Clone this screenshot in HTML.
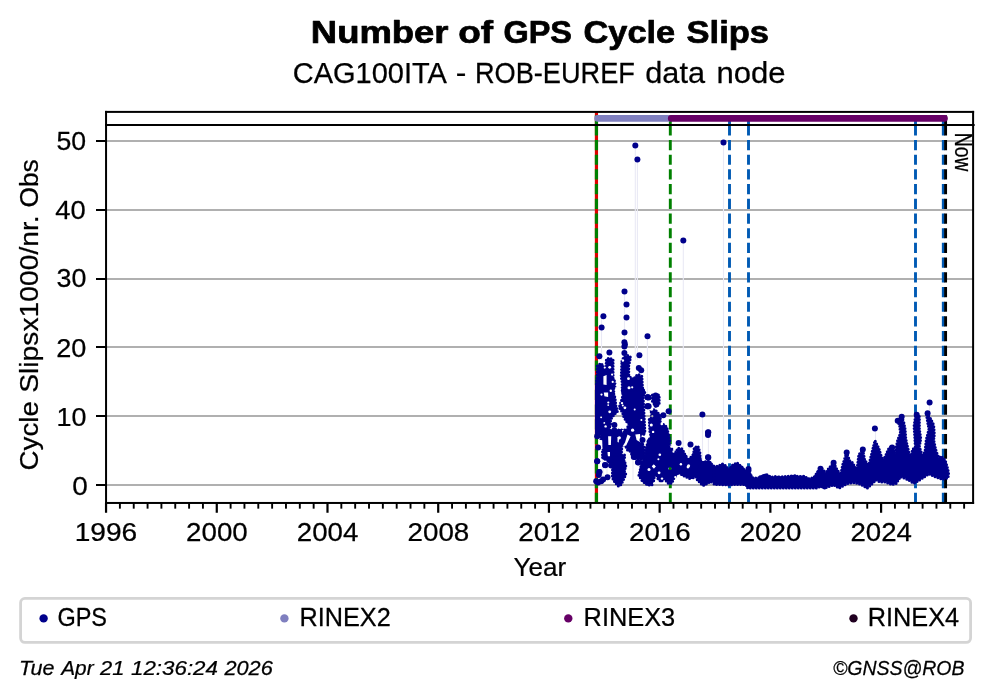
<!DOCTYPE html><html><head><meta charset="utf-8"><title>GPS Cycle Slips</title><style>html,body{margin:0;padding:0;background:#fff;overflow:hidden}svg{display:block;will-change:transform}text{stroke:#000;stroke-width:0.25px;stroke-linejoin:round}text[font-weight="bold"]{stroke-width:0.7px}</style></head><body>
<svg width="992" height="699" viewBox="0 0 992 699">
<rect x="0" y="0" width="992" height="699" fill="#fff"/>
<rect x="106.05" y="140.00" width="867.0500000000001" height="2" fill="#b0b0b0"/>
<rect x="106.05" y="209.00" width="867.0500000000001" height="2" fill="#b0b0b0"/>
<rect x="106.05" y="278.00" width="867.0500000000001" height="2" fill="#b0b0b0"/>
<rect x="106.05" y="346.00" width="867.0500000000001" height="2" fill="#b0b0b0"/>
<rect x="106.05" y="415.00" width="867.0500000000001" height="2" fill="#b0b0b0"/>
<rect x="106.05" y="484.00" width="867.0500000000001" height="2" fill="#b0b0b0"/>
<line x1="596.45" y1="502.96" x2="596.45" y2="125" stroke="#e00000" stroke-width="3.2" />
<line x1="596.45" y1="125" x2="596.45" y2="111.9" stroke="#e00000" stroke-width="3.2"/>
<line x1="596.45" y1="502.96" x2="596.45" y2="125" stroke="#008000" stroke-width="3.2" stroke-dasharray="10.2 4.5"/>
<line x1="596.45" y1="125" x2="596.45" y2="115.3" stroke="#008000" stroke-width="3.2"/>
<line x1="670.3" y1="502.96" x2="670.3" y2="125" stroke="#008000" stroke-width="2.9" stroke-dasharray="10.2 4.5"/>
<line x1="670.3" y1="125" x2="670.3" y2="115.3" stroke="#008000" stroke-width="2.9"/>
<line x1="729.5" y1="502.96" x2="729.5" y2="125" stroke="#005ab4" stroke-width="2.9" stroke-dasharray="10.2 4.5"/>
<line x1="729.5" y1="125" x2="729.5" y2="115.3" stroke="#005ab4" stroke-width="2.9"/>
<line x1="748.5" y1="502.96" x2="748.5" y2="125" stroke="#005ab4" stroke-width="2.9" stroke-dasharray="10.2 4.5"/>
<line x1="748.5" y1="125" x2="748.5" y2="115.3" stroke="#005ab4" stroke-width="2.9"/>
<line x1="915.5" y1="502.96" x2="915.5" y2="125" stroke="#005ab4" stroke-width="2.9" stroke-dasharray="10.2 4.5"/>
<line x1="915.5" y1="125" x2="915.5" y2="115.3" stroke="#005ab4" stroke-width="2.9"/>
<line x1="943.3" y1="502.96" x2="943.3" y2="125" stroke="#005ab4" stroke-width="2.9" stroke-dasharray="10.2 4.5"/>
<line x1="943.3" y1="125" x2="943.3" y2="115.3" stroke="#005ab4" stroke-width="2.9"/>
<line x1="945.6" y1="502.96" x2="945.6" y2="125" stroke="#000000" stroke-width="2.9" stroke-dasharray="10.2 4.5"/>
<line x1="945.6" y1="125" x2="945.6" y2="115.3" stroke="#000000" stroke-width="2.9"/>
<g stroke="#e9e9f5" stroke-width="1.1">
<line x1="635.3" y1="145.5" x2="635.3" y2="360.0"/>
<line x1="637.4" y1="159.4" x2="637.4" y2="360.0"/>
<line x1="683.3" y1="240.5" x2="683.3" y2="470.0"/>
<line x1="723.5" y1="142.4" x2="723.5" y2="470.0"/>
<line x1="647.4" y1="336.4" x2="647.4" y2="395.0"/>
<line x1="624.5" y1="291.4" x2="624.5" y2="355.0"/>
<line x1="601.5" y1="316.0" x2="601.5" y2="360.0"/>
<line x1="708.4" y1="432.0" x2="708.4" y2="470.0"/>
<line x1="875.5" y1="428.0" x2="875.5" y2="450.0"/>
<line x1="929.5" y1="402.0" x2="929.5" y2="420.0"/>
<line x1="702.5" y1="414.4" x2="702.5" y2="460.0"/>
<line x1="689.0" y1="440.0" x2="689.0" y2="475.0"/>
<line x1="683.0" y1="420.0" x2="683.0" y2="470.0"/>
<line x1="603.0" y1="420.0" x2="603.0" y2="480.0"/>
<line x1="607.0" y1="430.0" x2="607.0" y2="480.0"/>
<line x1="623.0" y1="440.0" x2="623.0" y2="470.0"/>
<line x1="633.0" y1="450.0" x2="633.0" y2="480.0"/>
</g>
<mask id="hm" maskUnits="userSpaceOnUse" x="0" y="0" width="992" height="699"><rect x="0" y="0" width="992" height="699" fill="#fff"/>
<path d="M603.4,376.2 L606.6,375.0 L606.6,385.0 L603.4,384.4Z" fill="#000"/>
<path d="M603.8,392.5 L608.1,392.5 L608.1,396.9 L604.4,396.2Z" fill="#000"/>
<path d="M617.5,436.9 L619.1,436.9 L618.8,442.5 L617.5,441.9Z" fill="#000"/>
<path d="M627.5,434.4 L630.6,436.2 L628.8,440.0 L626.2,445.6 L622.5,446.4 L625.0,442.5Z" fill="#000"/>
<path d="M598.1,439.4 L602.2,440.3 L602.5,448.8 L600.3,450.6 L598.4,446.2Z" fill="#000"/>
<path d="M608.1,436.2 L611.2,436.2 L610.9,445.0 L608.4,445.0Z" fill="#000"/>
<path d="M607.5,451.9 L610.0,451.9 L610.0,456.2 L607.8,456.2Z" fill="#000"/>
<path d="M635.3,434.4 L640.0,433.9 L640.8,442.5 L636.6,440.0Z" fill="#000"/>
<path d="M617.8,430.0 L623.8,430.0 L621.6,433.4 L619.1,433.4Z" fill="#000"/>
<path d="M653.6,464.4 L655.5,466.2 L653.6,468.1 L651.8,466.2Z" fill="#000"/>
<path d="M653.9,464.4 L655.8,466.6 L653.9,468.8 L652.1,466.6Z" fill="#000"/>
<circle cx="628.5" cy="378.7" r="1.4" fill="#000"/>
<circle cx="605.6" cy="426.4" r="1.2" fill="#000"/>
<circle cx="604.3" cy="422.9" r="0.9" fill="#000"/>
<circle cx="638.5" cy="368.7" r="1.0" fill="#000"/>
<circle cx="637.6" cy="462.5" r="1.0" fill="#000"/>
<circle cx="619.3" cy="437.8" r="1.6" fill="#000"/>
<circle cx="651.5" cy="409.2" r="1.6" fill="#000"/>
<circle cx="603.2" cy="466.5" r="1.1" fill="#000"/>
<circle cx="612.1" cy="374.6" r="1.1" fill="#000"/>
<circle cx="673.3" cy="382.4" r="1.3" fill="#000"/>
<circle cx="657.1" cy="406.2" r="1.3" fill="#000"/>
<circle cx="604.7" cy="367.4" r="1.0" fill="#000"/>
<circle cx="660.9" cy="413.0" r="1.1" fill="#000"/>
<circle cx="652.3" cy="416.2" r="1.1" fill="#000"/>
<circle cx="671.3" cy="446.7" r="1.1" fill="#000"/>
<circle cx="651.3" cy="425.1" r="1.5" fill="#000"/>
<circle cx="665.4" cy="395.7" r="1.6" fill="#000"/>
<circle cx="609.7" cy="411.8" r="1.4" fill="#000"/>
<circle cx="612.8" cy="420.6" r="0.9" fill="#000"/>
<circle cx="659.8" cy="454.8" r="1.3" fill="#000"/>
<circle cx="678.7" cy="398.9" r="1.4" fill="#000"/>
<circle cx="653.1" cy="431.9" r="1.2" fill="#000"/>
<circle cx="675.4" cy="477.1" r="1.2" fill="#000"/>
<circle cx="659.4" cy="367.5" r="1.4" fill="#000"/>
<circle cx="657.9" cy="483.1" r="1.5" fill="#000"/>
<circle cx="624.9" cy="407.8" r="1.4" fill="#000"/>
<circle cx="601.1" cy="417.3" r="1.0" fill="#000"/>
<circle cx="609.7" cy="367.3" r="1.4" fill="#000"/>
<circle cx="610.8" cy="390.7" r="1.2" fill="#000"/>
<circle cx="678.3" cy="370.0" r="1.2" fill="#000"/>
<circle cx="649.0" cy="469.5" r="1.5" fill="#000"/>
<circle cx="677.6" cy="394.5" r="1.2" fill="#000"/>
<circle cx="631.6" cy="469.6" r="1.6" fill="#000"/>
<circle cx="612.7" cy="381.9" r="1.1" fill="#000"/>
<circle cx="620.2" cy="420.1" r="1.3" fill="#000"/>
<circle cx="622.9" cy="360.5" r="1.2" fill="#000"/>
<circle cx="632.6" cy="430.2" r="1.6" fill="#000"/>
<circle cx="661.8" cy="423.9" r="1.3" fill="#000"/>
<circle cx="660.5" cy="366.7" r="1.5" fill="#000"/>
<circle cx="670.0" cy="468.4" r="1.5" fill="#000"/>
<circle cx="634.7" cy="409.5" r="1.0" fill="#000"/>
<circle cx="656.7" cy="367.7" r="0.9" fill="#000"/>
<circle cx="618.0" cy="380.1" r="1.1" fill="#000"/>
<circle cx="603.8" cy="360.0" r="1.0" fill="#000"/>
<circle cx="608.2" cy="405.1" r="0.9" fill="#000"/>
<circle cx="678.6" cy="436.1" r="1.0" fill="#000"/>
<circle cx="622.0" cy="403.1" r="1.2" fill="#000"/>
<circle cx="610.2" cy="465.3" r="1.6" fill="#000"/>
<circle cx="641.4" cy="420.0" r="1.0" fill="#000"/>
<circle cx="608.3" cy="402.5" r="1.1" fill="#000"/>
<circle cx="674.4" cy="380.0" r="0.9" fill="#000"/>
<circle cx="685.5" cy="425.5" r="1.0" fill="#000"/>
<circle cx="648.4" cy="363.4" r="1.3" fill="#000"/>
<circle cx="688.0" cy="467.1" r="1.4" fill="#000"/>
<circle cx="622.8" cy="405.5" r="1.0" fill="#000"/>
<circle cx="669.2" cy="426.0" r="1.4" fill="#000"/>
<circle cx="629.0" cy="387.7" r="1.5" fill="#000"/>
<circle cx="688.6" cy="465.7" r="1.5" fill="#000"/>
<circle cx="673.5" cy="451.7" r="1.1" fill="#000"/>
<circle cx="646.1" cy="404.1" r="0.9" fill="#000"/>
<circle cx="601.5" cy="394.6" r="1.1" fill="#000"/>
<circle cx="662.0" cy="478.6" r="1.2" fill="#000"/>
<circle cx="684.3" cy="482.5" r="1.6" fill="#000"/>
<circle cx="632.2" cy="387.3" r="1.1" fill="#000"/>
<circle cx="616.9" cy="385.3" r="1.3" fill="#000"/>
<circle cx="680.9" cy="464.2" r="1.2" fill="#000"/>
<circle cx="658.4" cy="459.2" r="1.0" fill="#000"/>
<circle cx="659.1" cy="472.8" r="1.4" fill="#000"/>
<circle cx="667.3" cy="419.3" r="1.0" fill="#000"/>
<circle cx="670.8" cy="401.2" r="1.5" fill="#000"/>
</mask>
<clipPath id="bc"><rect x="595" y="130" width="360" height="370"/></clipPath>
<g clip-path="url(#bc)"><g fill="#00008b" stroke="#00008b" stroke-width="3.0" stroke-dasharray="0 3.0" stroke-linecap="round" stroke-linejoin="round" mask="url(#hm)">
<path d="M597.2,365.9 L598.1,365.0 L600.9,363.4 L603.8,366.2 L603.4,368.8 L606.2,371.9 L606.2,359.4 L609.4,358.1 L613.1,359.4 L613.1,378.1 L614.4,380.0 L614.4,382.5 L615.9,385.3 L613.8,387.5 L613.8,393.0 L594.7,393.0 L594.7,387.5 L595.9,385.0 L597.2,376.2Z"/>
<path d="M621.9,361.2 L623.8,356.9 L627.5,355.3 L630.6,357.2 L630.0,360.0 L628.8,365.6 L628.8,375.0 L630.6,377.5 L633.8,379.4 L635.0,376.9 L638.1,374.4 L641.9,376.2 L642.5,387.5 L644.4,393.0 L622.2,393.0 L622.2,382.5 L621.2,376.9Z"/>
<path d="M594.7,390.0 L610.6,390.0 L613.8,393.8 L615.0,397.5 L615.9,405.6 L617.5,411.2 L615.0,413.8 L611.9,417.5 L610.6,420.0 L610.6,425.0 L608.8,428.8 L610.6,433.0 L594.7,433.0Z"/>
<path d="M622.5,390.0 L643.8,390.0 L645.0,393.1 L643.1,396.2 L643.8,408.8 L644.4,421.2 L645.0,433.0 L630.0,433.0 L627.5,427.5 L628.8,423.8 L626.2,421.2 L623.8,416.9 L622.5,412.5 L619.1,407.5 L621.2,401.2 L623.1,395.0Z"/>
<path d="M600.6,430.0 L644.4,430.0 L643.8,434.4 L640.0,433.8 L641.2,441.2 L643.8,446.2 L645.0,456.2 L642.5,459.4 L637.5,459.4 L633.8,458.1 L630.0,451.2 L627.5,450.0 L625.0,445.0 L621.9,445.6 L621.2,456.9 L625.0,462.5 L625.6,466.9 L623.8,473.0 L613.4,473.0 L613.1,467.5 L608.8,460.0 L606.2,460.0 L602.5,457.5 L602.5,445.6 L600.6,439.4Z"/>
<path d="M594.7,430.0 L600.6,430.0 L600.6,433.8 L598.1,436.2 L594.7,437.5Z"/>
<path d="M648.8,440.0 L652.0,437.5 L652.0,473.0 L640.0,473.0 L641.2,467.5 L642.5,461.2 L645.0,456.2 L645.6,448.8Z"/>
<path d="M612.5,455.0 L625.0,455.0 L623.8,461.2 L625.9,466.2 L623.8,470.0 L625.9,474.4 L623.8,478.8 L621.2,484.4 L618.4,486.2 L615.0,482.5 L612.2,477.5 L612.5,470.0 L611.9,461.2Z"/>
<path d="M641.9,461.9 L652.0,455.0 L652.0,485.0 L647.5,485.0 L642.5,481.2 L638.8,475.6 L640.0,470.6Z"/>
<path d="M652.4,395.0 L659.2,395.0 L659.2,404.4 L656.1,406.9 L652.4,401.2Z"/>
<path d="M651.1,410.6 L654.9,409.4 L659.9,415.0 L660.5,420.0 L659.9,423.8 L663.6,424.4 L666.8,426.9 L668.0,432.5 L668.6,438.0 L651.8,438.0 L649.9,432.5 L649.2,418.8 L651.8,417.5Z"/>
<path d="M648.0,441.2 L651.8,435.0 L668.6,435.0 L669.9,441.2 L669.2,445.0 L671.8,448.8 L673.0,452.5 L676.1,451.9 L678.0,448.1 L681.8,448.8 L684.2,452.5 L685.5,456.2 L688.0,460.0 L691.8,458.1 L693.6,453.8 L694.2,447.5 L698.0,446.2 L699.9,452.5 L700.5,462.5 L705.5,461.9 L710.0,461.2 L710.0,478.0 L695.5,475.6 L693.0,478.0 L683.0,475.0 L678.0,472.5 L674.2,478.0 L658.0,478.0 L656.1,472.5 L653.0,478.0 L648.0,478.0Z"/>
<path d="M648.0,455.0 L685.5,455.0 L688.0,460.6 L693.0,455.0 L699.2,455.0 L701.1,462.5 L710.0,461.2 L710.0,481.9 L703.0,485.6 L697.4,480.0 L694.9,475.0 L690.5,478.8 L683.0,475.6 L678.6,471.9 L674.2,477.5 L671.8,483.1 L668.6,483.8 L664.2,478.8 L661.1,481.9 L658.0,478.8 L656.1,472.5 L654.2,477.5 L653.6,481.2 L648.0,485.6Z"/>
<path d="M699.0,469.0 L700.9,462.5 L704.6,462.5 L710.2,462.5 L713.9,466.3 L715.8,470.9 L721.4,464.4 L725.1,465.3 L728.8,470.0 L732.5,465.3 L737.2,464.4 L741.8,467.2 L745.5,471.8 L748.3,468.1 L750.0,469.0 L750.0,487.6 L747.4,485.8 L740.9,483.0 L730.7,483.9 L720.4,483.9 L712.1,482.1 L708.3,481.1 L704.6,484.9 L700.9,483.0 L699.0,480.2Z"/>
<path d="M714.0,466.2 L717.8,466.2 L722.8,463.8 L726.5,467.5 L729.0,470.0 L732.8,465.0 L735.2,463.8 L735.0,463.6 L737.7,463.2 L743.2,468.1 L745.9,473.6 L748.6,472.0 L753.1,478.1 L757.7,478.1 L766.3,474.5 L771.3,477.2 L775.8,476.3 L782.2,478.1 L786.7,479.0 L794.0,475.4 L798.5,477.2 L804.0,476.3 L808.5,479.0 L814.0,477.2 L817.6,471.8 L821.2,468.1 L825.0,471.8 L825.0,488.1 L821.2,486.3 L816.7,488.1 L747.7,488.1 L745.9,484.5 L735.0,484.5 L729.0,485.0 L714.0,484.4Z"/>
<path d="M760.0,476.8 L766.0,474.8 L772.1,478.8 L780.2,476.8 L792.3,475.8 L804.4,476.8 L812.4,480.8 L818.5,470.7 L820.5,468.7 L824.5,474.8 L828.5,468.7 L833.6,462.7 L836.6,468.7 L840.6,474.8 L842.7,464.7 L846.7,452.6 L849.7,460.6 L852.7,462.7 L856.8,470.7 L858.8,454.6 L862.8,449.6 L864.8,460.6 L868.9,464.7 L870.9,456.6 L874.9,440.5 L879.0,448.5 L880.0,452.1 L882.7,460.2 L885.4,456.2 L888.2,449.4 L890.9,446.7 L893.6,449.4 L895.0,454.8 L896.3,446.7 L897.7,439.9 L900.4,433.1 L899.7,426.3 L897.7,420.8 L901.7,416.7 L903.8,422.2 L905.1,429.0 L905.8,438.5 L907.2,445.3 L909.2,453.4 L910.6,457.5 L912.6,449.4 L915.3,446.7 L914.7,435.8 L914.0,426.3 L916.0,412.7 L919.4,416.7 L919.4,429.0 L920.8,438.5 L919.4,446.7 L922.1,454.8 L924.9,452.1 L926.2,439.9 L928.9,429.0 L927.6,422.2 L926.2,412.7 L930.3,418.1 L933.7,424.9 L934.4,434.4 L933.7,439.9 L935.7,449.4 L938.4,457.5 L941.2,456.2 L945.2,460.2 L948.0,469.8 L948.6,473.8 L948.0,477.9 L942.5,479.3 L934.4,476.6 L928.9,473.8 L920.8,479.3 L914.0,483.4 L907.2,479.3 L900.4,476.6 L896.3,483.4 L892.2,484.7 L885.4,482.0 L880.0,482.0 L876.3,479.9 L867.2,488.1 L860.8,484.5 L854.5,482.6 L847.2,483.6 L839.0,488.1 L833.6,484.9 L824.5,488.1 L820.0,485.4 L760.0,486.0Z"/>
</g></g>
<g fill="#00008b">
<circle cx="635.3" cy="145.5" r="3"/>
<circle cx="637.4" cy="159.4" r="3"/>
<circle cx="683.3" cy="240.5" r="3"/>
<circle cx="723.5" cy="142.4" r="3"/>
<circle cx="624.5" cy="291.4" r="3"/>
<circle cx="626.5" cy="304.5" r="3"/>
<circle cx="626.5" cy="317.5" r="3"/>
<circle cx="603.4" cy="316.3" r="3"/>
<circle cx="601.6" cy="327.4" r="3"/>
<circle cx="624.5" cy="332.4" r="3"/>
<circle cx="647.5" cy="336.2" r="3"/>
<circle cx="609.4" cy="352.5" r="3"/>
<circle cx="599.4" cy="356.2" r="3"/>
<circle cx="624.4" cy="353.1" r="3"/>
<circle cx="639.4" cy="355.3" r="3"/>
<circle cx="638.8" cy="368.1" r="3"/>
<circle cx="641.2" cy="370.3" r="3"/>
<circle cx="624.4" cy="342.3" r="3"/>
<circle cx="624.9" cy="344.6" r="3"/>
<circle cx="624.4" cy="346.5" r="3"/>
<circle cx="614.4" cy="425.0" r="3"/>
<circle cx="614.4" cy="430.6" r="3"/>
<circle cx="619.4" cy="431.9" r="3"/>
<circle cx="627.5" cy="431.2" r="3"/>
<circle cx="647.5" cy="397.2" r="3"/>
<circle cx="647.5" cy="406.2" r="3"/>
<circle cx="597.2" cy="436.2" r="3"/>
<circle cx="598.1" cy="447.5" r="3"/>
<circle cx="597.2" cy="461.2" r="3"/>
<circle cx="599.4" cy="471.9" r="3"/>
<circle cx="605.0" cy="465.0" r="3"/>
<circle cx="611.2" cy="465.0" r="3"/>
<circle cx="638.1" cy="462.5" r="3"/>
<circle cx="642.5" cy="440.0" r="3"/>
<circle cx="631.2" cy="448.1" r="3"/>
<circle cx="633.8" cy="455.0" r="3"/>
<circle cx="597.2" cy="461.2" r="3"/>
<circle cx="599.4" cy="471.9" r="3"/>
<circle cx="598.8" cy="475.0" r="3"/>
<circle cx="598.1" cy="482.5" r="3"/>
<circle cx="603.1" cy="479.4" r="3"/>
<circle cx="607.5" cy="477.2" r="3"/>
<circle cx="605.3" cy="465.3" r="3"/>
<circle cx="609.4" cy="460.3" r="3"/>
<circle cx="611.2" cy="465.6" r="3"/>
<circle cx="604.7" cy="456.9" r="3"/>
<circle cx="633.8" cy="456.9" r="3"/>
<circle cx="638.1" cy="462.2" r="3"/>
<circle cx="601.2" cy="481.2" r="3"/>
<circle cx="596.2" cy="481.2" r="3"/>
<circle cx="648.6" cy="397.5" r="3"/>
<circle cx="648.6" cy="406.2" r="3"/>
<circle cx="668.6" cy="411.2" r="3"/>
<circle cx="663.3" cy="415.3" r="3"/>
<circle cx="702.4" cy="414.4" r="3"/>
<circle cx="708.0" cy="432.5" r="3"/>
<circle cx="655.6" cy="395.6" r="3"/>
<circle cx="655.0" cy="400.0" r="3"/>
<circle cx="656.2" cy="404.4" r="3"/>
<circle cx="647.5" cy="397.2" r="3"/>
<circle cx="647.5" cy="406.2" r="3"/>
<circle cx="678.6" cy="443.1" r="3"/>
<circle cx="690.5" cy="444.4" r="3"/>
<circle cx="708.0" cy="457.2" r="3"/>
<circle cx="708.0" cy="435.0" r="3"/>
<circle cx="708.3" cy="432.3" r="3"/>
<circle cx="708.3" cy="457.4" r="3"/>
<circle cx="748.5" cy="469.1" r="3"/>
<circle cx="874.9" cy="428.4" r="3"/>
<circle cx="862.8" cy="449.6" r="3"/>
<circle cx="892.1" cy="447.5" r="3"/>
<circle cx="846.7" cy="452.6" r="3"/>
<circle cx="833.6" cy="462.7" r="3"/>
<circle cx="820.5" cy="468.7" r="3"/>
<circle cx="929.6" cy="402.5" r="3"/>
<circle cx="927.6" cy="413.3" r="3"/>
<circle cx="916.7" cy="414.7" r="3"/>
<circle cx="901.7" cy="416.7" r="3"/>
<circle cx="897.7" cy="420.8" r="3"/>
</g>
<line x1="597.6" y1="118.4" x2="668" y2="118.4" stroke="#7f7fbf" stroke-width="6.6" stroke-linecap="round"/>
<line x1="671.2" y1="118.4" x2="944.5" y2="118.4" stroke="#660066" stroke-width="6.6" stroke-linecap="round"/>
<g fill="#000"><rect x="105.05" y="110.9" width="2" height="393.06"/><rect x="972.1" y="110.9" width="2" height="393.06"/><rect x="105.05" y="110.9" width="869.05" height="2"/><rect x="105.05" y="501.96" width="869.05" height="2"/><rect x="105.05" y="124.0" width="869.6" height="2"/></g>
<rect x="96" y="140.00" width="10.05" height="2" fill="#000"/>
<text transform="translate(56.53,149.55) scale(1.0637,1)" font-family='"Liberation Sans", sans-serif' font-size="25.07" fill="#000">50</text>
<rect x="96" y="209.00" width="10.05" height="2" fill="#000"/>
<text transform="translate(55.20,218.64) scale(1.0697,1)" font-family='"Liberation Sans", sans-serif' font-size="25.56" fill="#000">40</text>
<rect x="96" y="278.00" width="10.05" height="2" fill="#000"/>
<text transform="translate(56.53,287.45) scale(1.0624,1)" font-family='"Liberation Sans", sans-serif' font-size="25.28" fill="#000">30</text>
<rect x="96" y="346.00" width="10.05" height="2" fill="#000"/>
<text transform="translate(56.24,356.55) scale(1.0818,1)" font-family='"Liberation Sans", sans-serif' font-size="25.07" fill="#000">20</text>
<rect x="96" y="415.00" width="10.05" height="2" fill="#000"/>
<text transform="translate(56.58,425.75) scale(1.0790,1)" font-family='"Liberation Sans", sans-serif' font-size="24.93" fill="#000">10</text>
<rect x="96" y="484.00" width="10.05" height="2" fill="#000"/>
<text transform="translate(72.18,494.55) scale(1.1135,1)" font-family='"Liberation Sans", sans-serif' font-size="25.07" fill="#000">0</text>
<rect x="104.95" y="502.96" width="2.2" height="9.8" fill="#000"/>
<text transform="translate(74.64,540.55) scale(1.1210,1)" font-family='"Liberation Sans", sans-serif' font-size="25.07" fill="#000">1996</text>
<rect x="118.94" y="502.96" width="1.9" height="5.7" fill="#000"/>
<rect x="132.78" y="502.96" width="1.9" height="5.7" fill="#000"/>
<rect x="146.62" y="502.96" width="1.9" height="5.7" fill="#000"/>
<rect x="160.46" y="502.96" width="1.9" height="5.7" fill="#000"/>
<rect x="174.30" y="502.96" width="1.9" height="5.7" fill="#000"/>
<rect x="188.14" y="502.96" width="1.9" height="5.7" fill="#000"/>
<rect x="201.98" y="502.96" width="1.9" height="5.7" fill="#000"/>
<rect x="215.67" y="502.96" width="2.2" height="9.8" fill="#000"/>
<text transform="translate(186.08,540.55) scale(1.1053,1)" font-family='"Liberation Sans", sans-serif' font-size="25.07" fill="#000">2000</text>
<rect x="229.66" y="502.96" width="1.9" height="5.7" fill="#000"/>
<rect x="243.50" y="502.96" width="1.9" height="5.7" fill="#000"/>
<rect x="257.34" y="502.96" width="1.9" height="5.7" fill="#000"/>
<rect x="271.18" y="502.96" width="1.9" height="5.7" fill="#000"/>
<rect x="285.02" y="502.96" width="1.9" height="5.7" fill="#000"/>
<rect x="298.86" y="502.96" width="1.9" height="5.7" fill="#000"/>
<rect x="312.70" y="502.96" width="1.9" height="5.7" fill="#000"/>
<rect x="326.39" y="502.96" width="2.2" height="9.8" fill="#000"/>
<text transform="translate(296.81,540.55) scale(1.1027,1)" font-family='"Liberation Sans", sans-serif' font-size="25.07" fill="#000">2004</text>
<rect x="340.38" y="502.96" width="1.9" height="5.7" fill="#000"/>
<rect x="354.22" y="502.96" width="1.9" height="5.7" fill="#000"/>
<rect x="368.06" y="502.96" width="1.9" height="5.7" fill="#000"/>
<rect x="381.90" y="502.96" width="1.9" height="5.7" fill="#000"/>
<rect x="395.74" y="502.96" width="1.9" height="5.7" fill="#000"/>
<rect x="409.58" y="502.96" width="1.9" height="5.7" fill="#000"/>
<rect x="423.42" y="502.96" width="1.9" height="5.7" fill="#000"/>
<rect x="437.11" y="502.96" width="2.2" height="9.8" fill="#000"/>
<text transform="translate(407.52,540.55) scale(1.1079,1)" font-family='"Liberation Sans", sans-serif' font-size="25.07" fill="#000">2008</text>
<rect x="451.10" y="502.96" width="1.9" height="5.7" fill="#000"/>
<rect x="464.94" y="502.96" width="1.9" height="5.7" fill="#000"/>
<rect x="478.78" y="502.96" width="1.9" height="5.7" fill="#000"/>
<rect x="492.62" y="502.96" width="1.9" height="5.7" fill="#000"/>
<rect x="506.46" y="502.96" width="1.9" height="5.7" fill="#000"/>
<rect x="520.30" y="502.96" width="1.9" height="5.7" fill="#000"/>
<rect x="534.14" y="502.96" width="1.9" height="5.7" fill="#000"/>
<rect x="547.83" y="502.96" width="2.2" height="9.8" fill="#000"/>
<text transform="translate(518.23,540.55) scale(1.1131,1)" font-family='"Liberation Sans", sans-serif' font-size="25.07" fill="#000">2012</text>
<rect x="561.82" y="502.96" width="1.9" height="5.7" fill="#000"/>
<rect x="575.66" y="502.96" width="1.9" height="5.7" fill="#000"/>
<rect x="589.50" y="502.96" width="1.9" height="5.7" fill="#000"/>
<rect x="603.34" y="502.96" width="1.9" height="5.7" fill="#000"/>
<rect x="617.18" y="502.96" width="1.9" height="5.7" fill="#000"/>
<rect x="631.02" y="502.96" width="1.9" height="5.7" fill="#000"/>
<rect x="644.86" y="502.96" width="1.9" height="5.7" fill="#000"/>
<rect x="658.55" y="502.96" width="2.2" height="9.8" fill="#000"/>
<text transform="translate(628.96,540.55) scale(1.1079,1)" font-family='"Liberation Sans", sans-serif' font-size="25.07" fill="#000">2016</text>
<rect x="672.54" y="502.96" width="1.9" height="5.7" fill="#000"/>
<rect x="686.38" y="502.96" width="1.9" height="5.7" fill="#000"/>
<rect x="700.22" y="502.96" width="1.9" height="5.7" fill="#000"/>
<rect x="714.06" y="502.96" width="1.9" height="5.7" fill="#000"/>
<rect x="727.90" y="502.96" width="1.9" height="5.7" fill="#000"/>
<rect x="741.74" y="502.96" width="1.9" height="5.7" fill="#000"/>
<rect x="755.58" y="502.96" width="1.9" height="5.7" fill="#000"/>
<rect x="769.27" y="502.96" width="2.2" height="9.8" fill="#000"/>
<text transform="translate(739.68,540.55) scale(1.1053,1)" font-family='"Liberation Sans", sans-serif' font-size="25.07" fill="#000">2020</text>
<rect x="783.26" y="502.96" width="1.9" height="5.7" fill="#000"/>
<rect x="797.10" y="502.96" width="1.9" height="5.7" fill="#000"/>
<rect x="810.94" y="502.96" width="1.9" height="5.7" fill="#000"/>
<rect x="824.78" y="502.96" width="1.9" height="5.7" fill="#000"/>
<rect x="838.62" y="502.96" width="1.9" height="5.7" fill="#000"/>
<rect x="852.46" y="502.96" width="1.9" height="5.7" fill="#000"/>
<rect x="866.30" y="502.96" width="1.9" height="5.7" fill="#000"/>
<rect x="879.99" y="502.96" width="2.2" height="9.8" fill="#000"/>
<text transform="translate(850.41,540.55) scale(1.1027,1)" font-family='"Liberation Sans", sans-serif' font-size="25.07" fill="#000">2024</text>
<rect x="893.98" y="502.96" width="1.9" height="5.7" fill="#000"/>
<rect x="907.82" y="502.96" width="1.9" height="5.7" fill="#000"/>
<rect x="921.66" y="502.96" width="1.9" height="5.7" fill="#000"/>
<rect x="935.50" y="502.96" width="1.9" height="5.7" fill="#000"/>
<rect x="949.34" y="502.96" width="1.9" height="5.7" fill="#000"/>
<rect x="963.18" y="502.96" width="1.9" height="5.7" fill="#000"/>
<text transform="translate(310.83,42.70) scale(1.1923,1)" font-family='"Liberation Sans", sans-serif' font-size="30.58" font-weight="bold" font-style="normal" fill="#000">Number</text>
<text transform="translate(458.22,42.70) scale(1.2105,1)" font-family='"Liberation Sans", sans-serif' font-size="30.58" font-weight="bold" font-style="normal" fill="#000">of</text>
<text transform="translate(503.40,42.70) scale(1.0622,1)" font-family='"Liberation Sans", sans-serif' font-size="30.58" font-weight="bold" font-style="normal" fill="#000">GPS</text>
<text transform="translate(583.42,42.70) scale(1.1250,1)" font-family='"Liberation Sans", sans-serif' font-size="30.58" font-weight="bold" font-style="normal" fill="#000">Cycle</text>
<text transform="translate(686.56,42.70) scale(1.1290,1)" font-family='"Liberation Sans", sans-serif' font-size="30.58" font-weight="bold" font-style="normal" fill="#000">Slips</text>
<text transform="translate(292.75,82.80) scale(0.9575,1)" font-family='"Liberation Sans", sans-serif' font-size="30.29" font-weight="normal" font-style="normal" fill="#000">CAG100ITA</text>
<text transform="translate(455.77,82.80) scale(1.0511,1)" font-family='"Liberation Sans", sans-serif' font-size="30.29" font-weight="normal" font-style="normal" fill="#000">-</text>
<text transform="translate(474.92,82.80) scale(0.8977,1)" font-family='"Liberation Sans", sans-serif' font-size="30.29" font-weight="normal" font-style="normal" fill="#000">ROB-EUREF</text>
<text transform="translate(645.27,82.80) scale(1.0138,1)" font-family='"Liberation Sans", sans-serif' font-size="30.29" font-weight="normal" font-style="normal" fill="#000">data</text>
<text transform="translate(716.38,82.80) scale(1.0256,1)" font-family='"Liberation Sans", sans-serif' font-size="30.29" font-weight="normal" font-style="normal" fill="#000">node</text>
<text transform="translate(513.45,575.80) scale(0.9935,1)" font-family='"Liberation Sans", sans-serif' font-size="26.23" font-weight="normal" font-style="normal" fill="#000">Year</text>
<g transform="translate(37.9,469.0) rotate(-90)">
<text transform="translate(-1.38,0.00) scale(1.0911,1)" font-family='"Liberation Sans", sans-serif' font-size="25.38" font-weight="normal" font-style="normal" fill="#000">Cycle</text>
<text transform="translate(76.23,0.00) scale(1.1131,1)" font-family='"Liberation Sans", sans-serif' font-size="25.38" font-weight="normal" font-style="normal" fill="#000">Slipsx1000/nr.</text>
<text transform="translate(261.42,0.00) scale(1.0373,1)" font-family='"Liberation Sans", sans-serif' font-size="25.38" font-weight="normal" font-style="normal" fill="#000">Obs</text>
</g>
<g transform="translate(955.2,134.3) rotate(90)"><text transform="translate(-1.55,0) scale(0.8033,1)" font-family='"Liberation Sans", sans-serif' font-size="24.06" fill="#000">Now</text></g>
<rect x="20.6" y="598.4" width="950.0" height="44.0" rx="4.3" ry="4.3" fill="#fff" stroke="#d4d4d4" stroke-width="2.8"/>
<circle cx="43.6" cy="618.4" r="4.2" fill="#00008b"/>
<text transform="translate(57.43,625.80) scale(0.9255,1)" font-family='"Liberation Sans", sans-serif' font-size="25.36" font-weight="normal" font-style="normal" fill="#000">GPS</text>
<circle cx="284.4" cy="618.4" r="4.2" fill="#7f7fbf"/>
<text transform="translate(299.48,625.80) scale(0.9970,1)" font-family='"Liberation Sans", sans-serif' font-size="25.36" font-weight="normal" font-style="normal" fill="#000">RINEX2</text>
<circle cx="568.3" cy="618.4" r="4.2" fill="#660066"/>
<text transform="translate(583.57,625.80) scale(1.0010,1)" font-family='"Liberation Sans", sans-serif' font-size="25.36" font-weight="normal" font-style="normal" fill="#000">RINEX3</text>
<circle cx="853.5" cy="618.4" r="4.2" fill="#200020"/>
<text transform="translate(867.77,625.80) scale(0.9981,1)" font-family='"Liberation Sans", sans-serif' font-size="25.36" font-weight="normal" font-style="normal" fill="#000">RINEX4</text>
<text transform="translate(18.96,674.90) scale(1.0600,1)" font-family='"Liberation Sans", sans-serif' font-size="20.29" font-weight="normal" font-style="italic" fill="#000">Tue</text>
<text transform="translate(61.24,674.90) scale(1.0248,1)" font-family='"Liberation Sans", sans-serif' font-size="20.29" font-weight="normal" font-style="italic" fill="#000">Apr</text>
<text transform="translate(100.01,674.90) scale(1.0814,1)" font-family='"Liberation Sans", sans-serif' font-size="20.29" font-weight="normal" font-style="italic" fill="#000">21</text>
<text transform="translate(131.04,674.90) scale(1.1002,1)" font-family='"Liberation Sans", sans-serif' font-size="20.29" font-weight="normal" font-style="italic" fill="#000">12:36:24</text>
<text transform="translate(224.41,674.90) scale(1.0719,1)" font-family='"Liberation Sans", sans-serif' font-size="20.29" font-weight="normal" font-style="italic" fill="#000">2026</text>
<text transform="translate(832.92,675.00) scale(0.9676,1)" font-family='"Liberation Sans", sans-serif' font-size="20.14" font-weight="normal" font-style="italic" fill="#000">©GNSS@ROB</text>
</svg></body></html>
